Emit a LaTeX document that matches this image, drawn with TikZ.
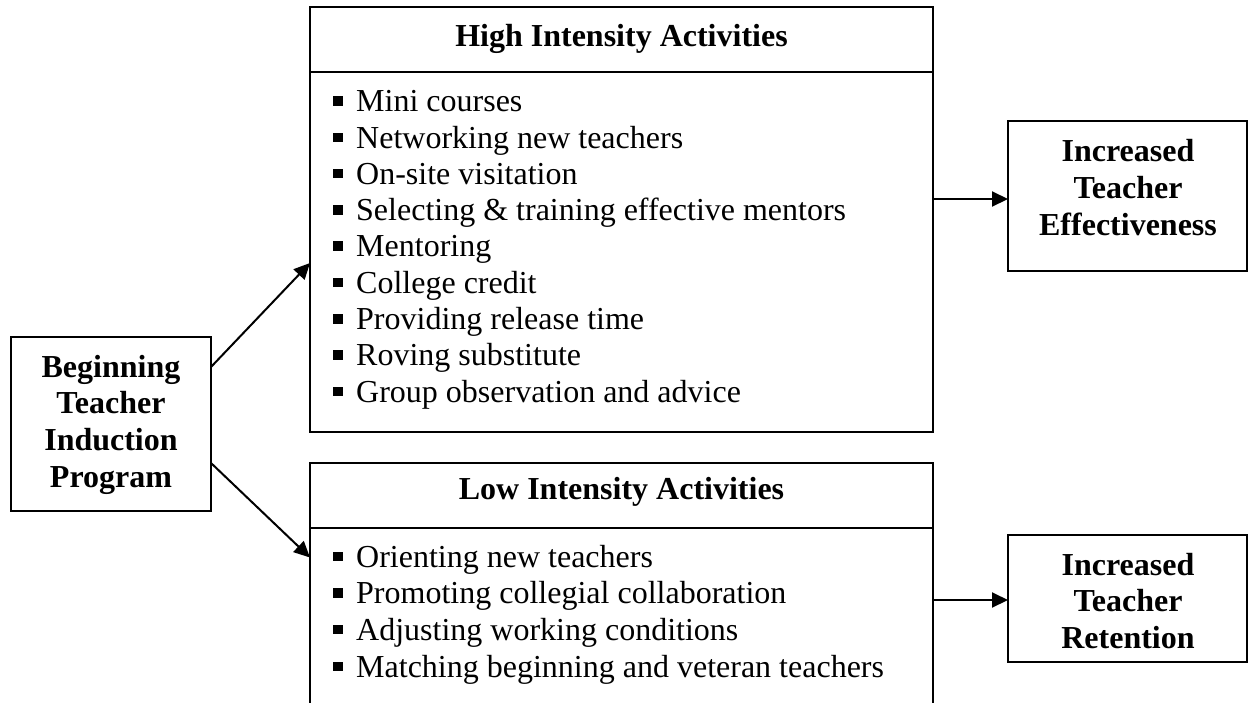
\documentclass[tikz,border=0pt]{standalone}
\usepackage{fontspec}
\setmainfont{Liberation Serif}
\usetikzlibrary{arrows.meta}
\newcommand\bulsq{\raisebox{6pt}{\rule{9.5pt}{9.5pt}}\hspace{13.5pt}}
\begin{document}
\begin{tikzpicture}[x=1pt,y=-1pt,
  box/.style={draw,line width=1.9pt,inner sep=0pt,outer sep=0pt},
  sepline/.style={line width=1.9pt},
  arr/.style={line width=2pt,-{Triangle[length=16pt,width=15pt]}},
  item/.style={anchor=base west,inner sep=0pt,font=\fontsize{32}{36}\selectfont},
  bold/.style={anchor=base,inner sep=0pt,font=\fontsize{32}{36}\selectfont\bfseries}]
\useasboundingbox (0,0) rectangle (1248,702);
\clip (0,0) rectangle (1248,702);
% boxes
\node[box,minimum width=200pt,minimum height=174pt] (lb) at (111,424) {};
\node[box,minimum width=623pt,minimum height=425pt] (high) at (621.5,219.5) {};
\node[box,minimum width=623pt,minimum height=280pt] (low) at (621.5,603) {};
\node[box,minimum width=239pt,minimum height=150pt] (rt) at (1127.5,196) {};
\node[box,minimum width=239pt,minimum height=127pt] (rb) at (1127.5,598.5) {};
% title separators
\coordinate (sh) at (0,72);
\coordinate (sl) at (0,528);
\draw[sepline] (high.west |- sh) -- (high.east |- sh);
\draw[sepline] (low.west |- sl) -- (low.east |- sl);
% titles
\node[bold] (ht) at (621.5,46) {High Intensity Activities};
\node[bold] (lt) at (621.5,499) {Low Intensity Activities};
% left box text
\foreach \t [count=\i] in {Beginning, Teacher, Induction, Program}
  \node[bold] (lb\i) at (111,{377+(\i-1)*36.7}) {\t};
% right boxes text
\foreach \t [count=\i] in {Increased, Teacher, Effectiveness}
  \node[bold] (rt\i) at (1128,{161+(\i-1)*37}) {\t};
\foreach \t [count=\i] in {Increased, Teacher, Retention}
  \node[bold] (rb\i) at (1128,{575+(\i-1)*36.7}) {\t};
% high intensity items
\foreach \t [count=\i] in {Mini courses, Networking new teachers, On-site visitation,
  Selecting \& training effective mentors, Mentoring, College credit,
  Providing release time, Roving substitute, Group observation and advice}
  \node[item] (h\i) at (333,{111.7+(\i-1)*36.3}) {\bulsq\t};
% low intensity items
\foreach \t [count=\i] in {Orienting new teachers, Promoting collegial collaboration,
  Adjusting working conditions, Matching beginning and veteran teachers}
  \node[item] (l\i) at (333,{567+(\i-1)*36.7}) {\bulsq\t};
% connectors
\draw[arr] ([yshift=-30pt]lb.north east) -- ([yshift=-43.5pt]high.west);
\draw[arr] ([yshift=-126pt]lb.north east) -- ([yshift=45.5pt]low.west);
\draw[arr] ([yshift=-3pt]high.east |- rt.west) -- ([yshift=-3pt]rt.west);
\draw[arr] ([yshift=-1.5pt]low.east |- rb.west) -- ([yshift=-1.5pt]rb.west);
\end{tikzpicture}
\end{document}
